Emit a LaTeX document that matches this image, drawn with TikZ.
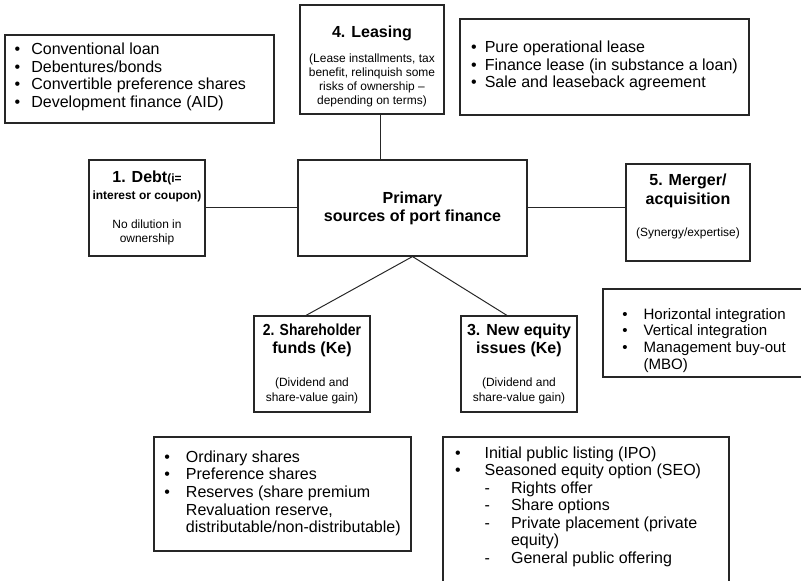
\documentclass[tikz,border=0pt]{standalone}
\usepackage{fontspec}
\setmainfont{Liberation Sans}
\usepackage{graphicx}
\usepackage{tikz}
\usepackage{xcolor}

\newcommand{\notefont}{\mdseries\fontsize{8.5}{10}\selectfont}

\begin{document}
\begin{tikzpicture}[
  box/.style={draw=black!85, line width=0.8pt, inner sep=0pt},
  titlebox/.style={box, align=center, font=\bfseries\fontsize{11.4}{12.8}\selectfont},
  listbox/.style={box, font=\fontsize{11.4}{12.45}\selectfont},
  link/.style={draw=black!85, line width=0.7pt}
]
  \useasboundingbox (0,0) rectangle (20.025,14.525);
  \clip (0,0) rectangle (20.025,14.525);

  % Centre
  \node[titlebox, minimum width=5.725cm, minimum height=2.4cm] (primary) at (10.3125,9.325) {Primary\\ sources of port finance};

  % 1. Debt
  \node[titlebox, minimum width=2.9cm, minimum height=2.4cm] (debt) at (3.675,9.325)
    {1. Debt{\notefont\bfseries(i=}\\[-0.7pt]
     {\notefont\bfseries interest or coupon)}\\[7.2pt]
     {\notefont No dilution in}\\[-2.8pt] {\notefont ownership}};
  \node[listbox, minimum width=6.725cm, minimum height=2.2cm] (loans) at (3.4875,12.55)
    {\begin{tabular}{@{}l@{\hspace{7.8pt}}l@{\hspace{13pt}}}
      \textbullet & Conventional loan\\
      \textbullet & Debentures/bonds\\
      \textbullet & Convertible preference shares\\
      \textbullet & Development finance (AID)\\[2pt]
    \end{tabular}};

  % 4. Leasing
  \node[titlebox, minimum width=3.6cm, minimum height=2.725cm] (leasing) at (9.3,13.0375)
    {\rule{0pt}{18.2pt}4. Leasing\\[5pt]
     {\notefont (Lease installments, tax}\\[-2.8pt]
     {\notefont benefit, relinquish some}\\[-2.8pt]
     {\notefont risks of ownership \textendash}\\[-2.8pt]
     {\notefont depending on terms)}};
  \node[listbox, minimum width=7.225cm, minimum height=2.4cm] (leases) at (15.1125,12.85)
    {\begin{tabular}{@{}l@{\hspace{5.7pt}}l@{}}
      \textbullet & Pure operational lease\\
      \textbullet & Finance lease (in substance a loan)\\
      \textbullet & Sale and leaseback agreement
    \end{tabular}};

  % 5. Merger
  \node[titlebox, minimum width=3.1cm, minimum height=2.425cm] (merger) at (17.2,9.2125)
    {5. Merger/\\[0.7pt] acquisition\\[10pt]
     {\notefont (Synergy/expertise)}\rule[-10.5pt]{0pt}{0pt}};
  \node[box, font=\fontsize{10.7}{11.9}\selectfont, minimum width=5.05cm, minimum height=2.2cm] (mergers) at (17.6,6.2)
    {\begin{tabular}{@{}l@{\hspace{11.4pt}}l@{}}
      \textbullet & \rule{0pt}{19.7pt}Horizontal integration\\
      \textbullet & Vertical integration\\
      \textbullet & Management buy-out\\
                  & (MBO)
    \end{tabular}};

  % 2. Shareholder funds
  \node[titlebox, minimum width=2.9cm, minimum height=2.4cm] (shareholder) at (7.8,5.425)
    {\scalebox{0.87}[1]{2. Shareholder}\\ funds (Ke)\\[10.7pt]
     {\notefont (Dividend and}\\[-2.3pt] {\notefont share-value gain)}};
  \node[box, font=\fontsize{11.4}{12.6}\selectfont, minimum width=6.425cm, minimum height=2.85cm] (shares) at (7.0625,2.175)
    {\begin{tabular}{@{}l@{\hspace{11.4pt}}l@{}}
      \textbullet & Ordinary shares\\
      \textbullet & Preference shares\\
      \textbullet & Reserves (share premium\\
                  & Revaluation reserve,\\
                  & distributable/non-distributable)
    \end{tabular}};

  % 3. New equity issues
  \node[titlebox, minimum width=2.9cm, minimum height=2.4cm] (equity) at (12.975,5.425)
    {3. New equity\\ issues (Ke)\\[10.7pt]
     {\notefont (Dividend and}\\[-2.3pt] {\notefont share-value gain)}};
  \node[box, font=\fontsize{11.4}{12.45}\selectfont, minimum width=7.15cm, minimum height=3.7cm] (issues) at (14.65,1.75)
    {\begin{tabular}{@{}l@{\hspace{17pt}}l@{\hspace{15pt}}l@{\hspace{14pt}}}
      \textbullet & \multicolumn{2}{@{}l@{}}{Initial public listing (IPO)}\\
      \textbullet & \multicolumn{2}{@{}l@{}}{Seasoned equity option (SEO)}\\
                  & - & Rights offer\\
                  & - & Share options\\
                  & - & Private placement (private\\
                  &   & equity)\\
                  & - & General public offering\\[5pt]
    \end{tabular}};

  % Links
  \draw[link] (debt.east) -- (primary.west);
  \draw[link] (primary.east) -- (primary.east -| merger.west);
  \draw[link] ([xshift=0.2cm]leasing.south) -- ([xshift=0.2cm]leasing.south |- primary.north);
  \draw[link] (primary.south) -- ([xshift=-0.15cm]shareholder.north);
  \draw[link] (primary.south) -- ([xshift=-0.3cm]equity.north);

\end{tikzpicture}
\end{document}
